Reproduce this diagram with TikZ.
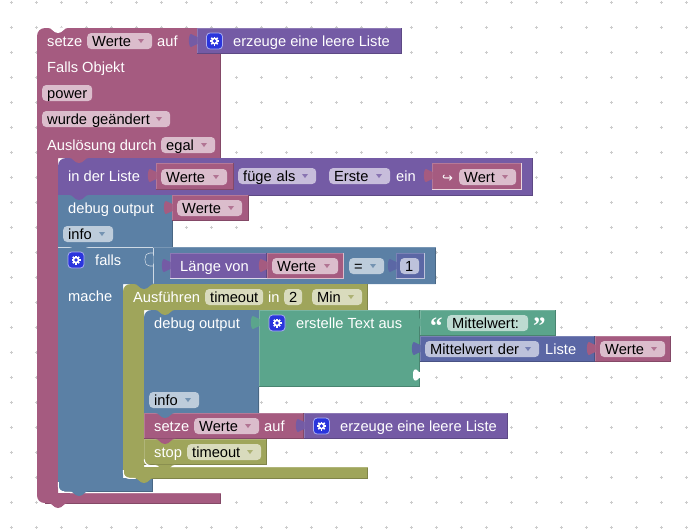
\documentclass[tikz,border=0pt]{standalone}
\usepackage{fontspec}
\usepackage{xcolor}
\usepackage{tikz}
\setmainfont{Liberation Sans}
\newfontfamily\symfont{DejaVu Sans}
\newfontfamily\quotefont{Liberation Serif}
\usetikzlibrary{positioning,calc}

\definecolor{varcol}{HTML}{A55B80}
\definecolor{listcol}{HTML}{745BA5}
\definecolor{logiccol}{HTML}{5B80A5}
\definecolor{textcol}{HTML}{5BA58C}
\definecolor{mathcol}{HTML}{5B67A5}
\definecolor{timecol}{HTML}{9FA55B}
\definecolor{iconcol}{HTML}{2A35DC}
\definecolor{dotcol}{HTML}{CCCCCC}

\tikzset{
    lbl/.style={anchor=base west,text=white,inner sep=0pt},
    fieldbox/.style={rectangle,rounded corners=4pt,anchor=west,inner xsep=5pt,inner ysep=0pt,
        minimum height=16pt,text height=12pt,text depth=2pt,align=left,text=black},
    darkrim/.style={#1!80!black,line width=.7pt},
    lightrim/.style={#1!82!white,line width=.7pt},
    whiterim/.style={white,line width=1pt,rounded corners=6pt}
}

% field without and with the little triangle: name, x0, x1, yc, colour, text
\newcommand{\plainfield}[6]{
    \pgfmathsetmacro\fieldw{#3-#2-10}
    \node[fieldbox,fill=#5!40!white,text width=\fieldw pt] (#1) at (#2,#4) {#6};
}
\newcommand{\dropfield}[6]{
    \plainfield{#1}{#2}{#3}{#4}{#5}{#6}
    \fill[#5!85!white] (#3-14,#4-2) -- (#3-8,#4-2) -- (#3-11,#4+2) -- cycle;
}
% plain block: x0, y0, x1, y1, colour
\newcommand{\blockrect}[5]{
    \fill[#5] (#1,#2) rectangle (#3-.3,#4-.3);
    \draw[lightrim=#5] (#1,#4-.4) -- (#1,#2) -- (#3-.4,#2);
    \draw[darkrim=#5] (#3-.4,#2) -- (#3-.4,#4-.4) -- (#1,#4-.4);
}
% puzzle tab on the left of a value block: x, yc, colour
\newcommand{\puzzletab}[3]{
    \fill[#3] (#1+.5,#2-3.5) .. controls (#1-3,#2-3.5) and (#1-3,#2-6.5) .. (#1-6,#2-6.5)
        .. controls (#1-8.8,#2-6.5) and (#1-8.8,#2+6.5) .. (#1-6,#2+6.5)
        .. controls (#1-3,#2+6.5) and (#1-3,#2+3.5) .. (#1+.5,#2+3.5) -- cycle;
}
% tab below a statement: x of block, y of edge, colour
\newcommand{\stmttab}[3]{
    \fill[#3] (#1+10,#2-.5) .. controls (#1+16,#2) and (#1+16,#2+5) .. (#1+21,#2+5)
        .. controls (#1+26,#2+5) and (#1+26,#2) .. (#1+32,#2-.5) -- cycle;
}
% gear button: xc, yc
\newcommand{\gearbtn}[2]{
    \fill[iconcol,draw=white!60!iconcol,line width=.8pt,rounded corners=3.5pt] (#1-8,#2-8) rectangle (#1+8,#2+8);
    \foreach \a in {0,45,...,315}
        \draw[white,line width=1.7pt] (#1,#2) -- ++(\a:4.5);
    \fill[white] (#1,#2) circle (3.5);
    \fill[iconcol] (#1,#2) circle (1.8);
}

\begin{document}
\begin{tikzpicture}[x=1pt,y=-1pt,font=\fontsize{14.67}{16}\selectfont]
    \useasboundingbox (0,0) rectangle (699,531);

    % dots of the workspace
    \foreach \i in {0,...,27}
        \foreach \j in {0,...,21} {
            \draw[dotcol,line width=.7pt] (11+25*\i-1.5,2+25*\j) -- ++(3,0);
            \draw[dotcol,line width=.7pt] (11+25*\i,2+25*\j-1.5) -- ++(0,3);
        }

    % setze Werte auf
    \fill[varcol,rounded corners=8pt] (37,54) -- (37,28) -- (100,28) [sharp corners] -- (197,28) -- (197,54) -- cycle;
    \fill[white] (47,27.5) .. controls (53,28) and (53,33) .. (58,33) .. controls (63,33) and (63,28) .. (69,27.5) -- cycle;
    \blockrect{197}{28}{402}{54}{listcol}
    \puzzletab{197}{40.5}{listcol}
    \node[lbl] (setzeA) at (47,46) {setze};
    \dropfield{werteA}{87}{152}{41}{varcol}{Werte}
    \node[lbl] (aufA) at (157,46) {auf};
    \gearbtn{214.5}{41}
    \node[lbl] (leerA) at (233,46) {erzeuge eine leere Liste};

    % Falls Objekt
    \fill[varcol] (37,54) -- (220.7,54) -- (220.7,158) -- (58,158) -- (58,493) -- (220.7,493) -- (220.7,503)
        -- (45,503) .. controls (40,503) and (37,500) .. (37,495) -- cycle;
    \draw[darkrim=varcol] (220.7,54) -- (220.7,158);
    \draw[darkrim=varcol] (220.7,493) -- (220.7,503) -- (45,503);
    \draw[lightrim=varcol] (70,493) -- (220.7,493);
    \stmttab{37}{54}{varcol}
    \node[lbl] (falls) at (47,72) {Falls Objekt};
    \plainfield{power}{42}{92}{93}{varcol}{power}
    \dropfield{geaendert}{42}{170}{119}{varcol}{wurde geändert}
    \node[lbl] (ausl) at (47,150) {Auslösung durch};
    \dropfield{egal}{161}{215}{145}{varcol}{egal}
    \stmttab{37}{503}{varcol}

    % in der Liste
    \fill[listcol,rounded corners=8pt] (58,195) -- (58,158) -- (100,158) [sharp corners] -- (532.7,158) -- (532.7,195) -- cycle;
    \draw[darkrim=listcol] (532.7,158) -- (532.7,195) -- (58,195);
    \stmttab{58}{158}{varcol}
    \node[lbl] (inliste) at (68,181) {in der Liste};
    \blockrect{156}{163}{234}{190}{varcol}
    \puzzletab{156}{175.5}{varcol}
    \dropfield{werteB}{161}{227}{177}{varcol}{Werte}
    \dropfield{fuege}{238}{316}{176}{listcol}{füge als}
    \dropfield{erste}{329}{390}{176}{listcol}{Erste}
    \node[lbl] (ein) at (396,181) {ein};
    \blockrect{432}{163}{522}{190}{varcol}
    \draw[white!75!varcol,line width=.7pt] (432,189.6) -- (521.6,189.6) -- (521.6,163);
    \puzzletab{432}{175.5}{varcol}
    \node[lbl,font=\symfont\fontsize{13}{16}\selectfont] (pfeil) at (442,182) {↪};
    \dropfield{wert}{459}{516}{177}{varcol}{Wert}

    % debug output, info
    \fill[logiccol] (58,195) rectangle (172,247);
    \draw[darkrim=logiccol] (172,195) -- (172,247);
    \stmttab{58}{195}{listcol}
    \node[lbl] (debugA) at (68,213) {debug output};
    \blockrect{172}{195}{249}{221}{varcol}
    \puzzletab{172}{207.5}{varcol}
    \dropfield{werteC}{177}{242}{208}{varcol}{Werte}
    \dropfield{infoA}{63}{113}{234}{logiccol}{info}

    % falls, mache
    \fill[logiccol] (58,247) -- (435.7,247) -- (435.7,284) -- (123,284) -- (123,478) -- (152.7,478) -- (152.7,491)
        -- (64,491) .. controls (60,491) and (58,489) .. (58,485) -- cycle;
    \draw[darkrim=logiccol] (435.7,247) -- (435.7,284);
    \draw[darkrim=logiccol] (152.7,478) -- (152.7,491) -- (64,491);
    \draw[white!70!logiccol,line width=.7pt] (58,247) -- (153,247) -- (153,284);
    \draw[lightrim=logiccol] (153,247) -- (435.7,247);
    \draw[whiterim] (58.3,482) -- (58.3,492) -- (80,492);
    \stmttab{58}{247}{logiccol}
    \fill[logiccol] (153.5,255.5) -- (151,255.5) .. controls (148,254) and (145,254) .. (145,259.5)
        .. controls (145,265) and (148,265) .. (151,263.5) -- (153.5,263.5) -- cycle;
    \draw[white!70!logiccol,line width=.6pt] (153,253) -- (150,253) .. controls (147,253) and (147,255) .. (146,255)
        .. controls (144.5,258) and (144.5,261) .. (146,264) .. controls (147,264) and (147,266) .. (150,266) -- (153,266);
    \gearbtn{76}{260}
    \node[lbl] (fallsB) at (95,265) {falls};
    \node[lbl] (mache) at (68,301) {mache};
    \blockrect{170}{253}{267}{279}{listcol}
    \draw[white!75!listcol,line width=.7pt] (170,278.6) -- (267,278.6);
    \puzzletab{170}{265.5}{listcol}
    \node[lbl] (laenge) at (180,271) {Länge von};
    \blockrect{267}{253}{344}{279}{varcol}
    \draw[white!60!varcol,line width=.7pt] (267,278.6) -- (343.6,278.6) -- (343.6,253);
    \puzzletab{267}{265.5}{varcol}
    \dropfield{werteD}{272}{338}{266}{varcol}{Werte}
    \dropfield{gleich}{349}{384}{266}{logiccol}{=}
    \blockrect{396}{253}{425}{279}{mathcol}
    \draw[white!60!mathcol,line width=.7pt] (396,278.6) -- (424.6,278.6) -- (424.6,253);
    \puzzletab{396}{265.5}{mathcol}
    \plainfield{eins}{400}{419}{266}{mathcol}{1}

    % Ausfuehren, rail around the inner blocks
    \fill[timecol] (123,292) .. controls (123,287) and (126,284) .. (131,284) -- (367.7,284) -- (367.7,310) -- (144,310)
        -- (144,467) -- (367.7,467) -- (367.7,478) -- (131,478) .. controls (126,478) and (123,475) .. (123,470) -- cycle;
    \draw[darkrim=timecol] (367.7,284) -- (367.7,310);
    \draw[darkrim=timecol] (367.7,467) -- (367.7,478) -- (131,478);
    \draw[lightrim=timecol] (170,467) -- (367.7,467);
    \draw[whiterim] (123.3,470) -- (123.3,478.4) -- (136,478.4);
    \stmttab{123}{284}{logiccol}
    \stmttab{123}{478}{timecol}
    \stmttab{58}{491}{logiccol}
    \node[lbl] (ausf) at (133,302) {Ausführen};
    \plainfield{timeoutA}{205}{263}{297}{timecol}{timeout}
    \node[lbl] (inB) at (268,302) {in};
    \plainfield{zwei}{284}{302}{297}{timecol}{2}
    \dropfield{minA}{312}{362}{297}{timecol}{Min}

    % debug output, erstelle Text aus
    \fill[logiccol] (144,318) .. controls (144,313) and (147,310) .. (152,310) -- (259,310) -- (259,413) -- (144,413) -- cycle;
    \draw[darkrim=logiccol] (258.7,387) -- (258.7,413);
    \stmttab{144}{310}{timecol}
    \node[lbl] (debugB) at (154,328) {debug output};
    \dropfield{infoB}{149}{199}{400}{logiccol}{info}
    \blockrect{259}{310}{420}{387}{textcol}
    \puzzletab{259}{322.5}{textcol}
    \gearbtn{277}{323}
    \node[lbl] (erstelle) at (296,328) {erstelle Text aus};
    \fill[white] (420.5,378) -- (419,378) .. controls (416,382) and (413,382) .. (413,375)
        .. controls (413,368) and (416,368) .. (419,372) -- (420.5,372) -- cycle;

    \blockrect{420}{310}{556}{336}{textcol}
    \puzzletab{420}{322.5}{textcol}
    \node[lbl,font=\quotefont\bfseries\fontsize{25}{26}\selectfont] (quoteL) at (430,334) {“};
    \plainfield{mittelA}{447}{528}{323}{textcol}{Mittelwert:}
    \node[lbl,font=\quotefont\bfseries\fontsize{25}{26}\selectfont] (quoteR) at (533,334) {”};

    \blockrect{420}{336}{595}{362}{mathcol}
    \puzzletab{420}{348.5}{mathcol}
    \dropfield{mittelB}{425}{539}{349}{mathcol}{Mittelwert der}
    \node[lbl] (liste) at (545,354) {Liste};
    \blockrect{595}{336}{671}{362}{varcol}
    \puzzletab{595}{348.5}{varcol}
    \dropfield{werteE}{600}{665}{349}{varcol}{Werte}

    % setze Werte auf, stop timeout
    \blockrect{144}{413}{304}{439}{varcol}
    \stmttab{144}{413}{logiccol}
    \node[lbl] (setzeB) at (154,431) {setze};
    \dropfield{werteF}{194}{259}{426}{varcol}{Werte}
    \node[lbl] (aufB) at (264,431) {auf};
    \blockrect{304}{413}{508}{439}{listcol}
    \puzzletab{304}{425.5}{listcol}
    \gearbtn{321.5}{426}
    \node[lbl] (leerB) at (340,431) {erzeuge eine leere Liste};
    \blockrect{144}{439}{267}{465}{timecol}
    \stmttab{144}{439}{varcol}
    \draw[whiterim] (144.3,460) -- (144.3,465.5) -- (166,465.5);
    \stmttab{144}{465}{timecol}
    \node[lbl] (stop) at (154,457) {stop};
    \dropfield{timeoutB}{187}{261}{452}{timecol}{timeout}
\end{tikzpicture}
\end{document}
